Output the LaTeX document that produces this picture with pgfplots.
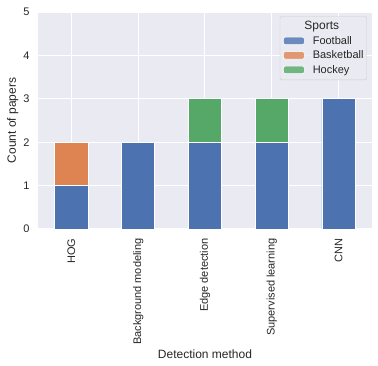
\documentclass[border=0pt]{standalone}
\usepackage{pgfplots}
\pgfplotsset{compat=1.18}
\usepackage{fontspec}
\setmainfont{Liberation Sans}
\definecolor{sbbg}{HTML}{EAEAF2}
\definecolor{sbblue}{HTML}{4C72B0}
\definecolor{sborange}{HTML}{DD8452}
\definecolor{sbgreen}{HTML}{55A868}
\definecolor{sbtext}{HTML}{262626}

\begin{document}
\begin{tikzpicture}[x=1pt,y=1pt]
\begin{axis}[
    name=ax,
    scale only axis,
    width=334pt, height=217pt,
    ybar stacked,
    bar width=0.5,
    xmin=-0.5, xmax=4.5,
    ymin=0, ymax=5,
    xtick={0,1,2,3,4},
    xticklabels={HOG,Background modeling,Edge detection,Supervised learning,CNN},
    ytick={0,1,2,3,4,5},
    x tick label style={rotate=90, anchor=east, font=\fontsize{11}{13}\selectfont, text=sbtext},
    y tick label style={font=\fontsize{11}{13}\selectfont, text=sbtext},
    /pgf/number format/assume math mode=true,
    xlabel={Detection method},
    ylabel={Count of papers},
    label style={font=\fontsize{12}{14}\selectfont, text=sbtext},
    xlabel style={yshift=2pt},
    ylabel style={yshift=-2pt},
    axis background/.style={fill=sbbg},
    axis line style={draw=none},
    major tick length=0pt,
    xtick pos=bottom, ytick pos=left,
    xticklabel shift=6pt, yticklabel shift=5pt,
    grid=major,
    major grid style={draw=white, line width=1pt},
    every axis plot/.append style={draw=white, line width=0.8pt},
    legend cell align=left,
    legend style={
        at={(0.985,0.98)}, anchor=north east,
        fill=sbbg, fill opacity=0.8, text opacity=1,
        draw=black!20, rounded corners=2pt,
        font=\fontsize{11}{13}\selectfont, text=sbtext,
        row sep=1pt, inner xsep=1pt, inner ysep=3pt
    },
    area legend,
    legend image code/.code={
        \draw[#1, draw=white, line width=0.6pt] (2pt,-3.5pt) rectangle (23pt,4pt);
        \path (0pt,0pt) (29pt,0pt);
    },
]
\addlegendimage{empty legend}
\addlegendentry{\hspace{-33pt}\makebox[84pt][c]{\fontsize{12}{14}\selectfont Sports}}
\addplot[fill=sbblue] coordinates {(0,1) (1,2) (2,2) (3,2) (4,3)};
\addlegendentry{Football}
\addplot[fill=sborange] coordinates {(0,1) (1,0) (2,0) (3,0) (4,0)};
\addlegendentry{Basketball}
\addplot[fill=sbgreen] coordinates {(0,0) (1,0) (2,1) (3,1) (4,0)};
\addlegendentry{Hockey}
\end{axis}
\pgfresetboundingbox
\useasboundingbox ([shift={(-38pt,-137pt)}]ax.south west) rectangle ++(378pt,366pt);
\end{tikzpicture}
\end{document}
